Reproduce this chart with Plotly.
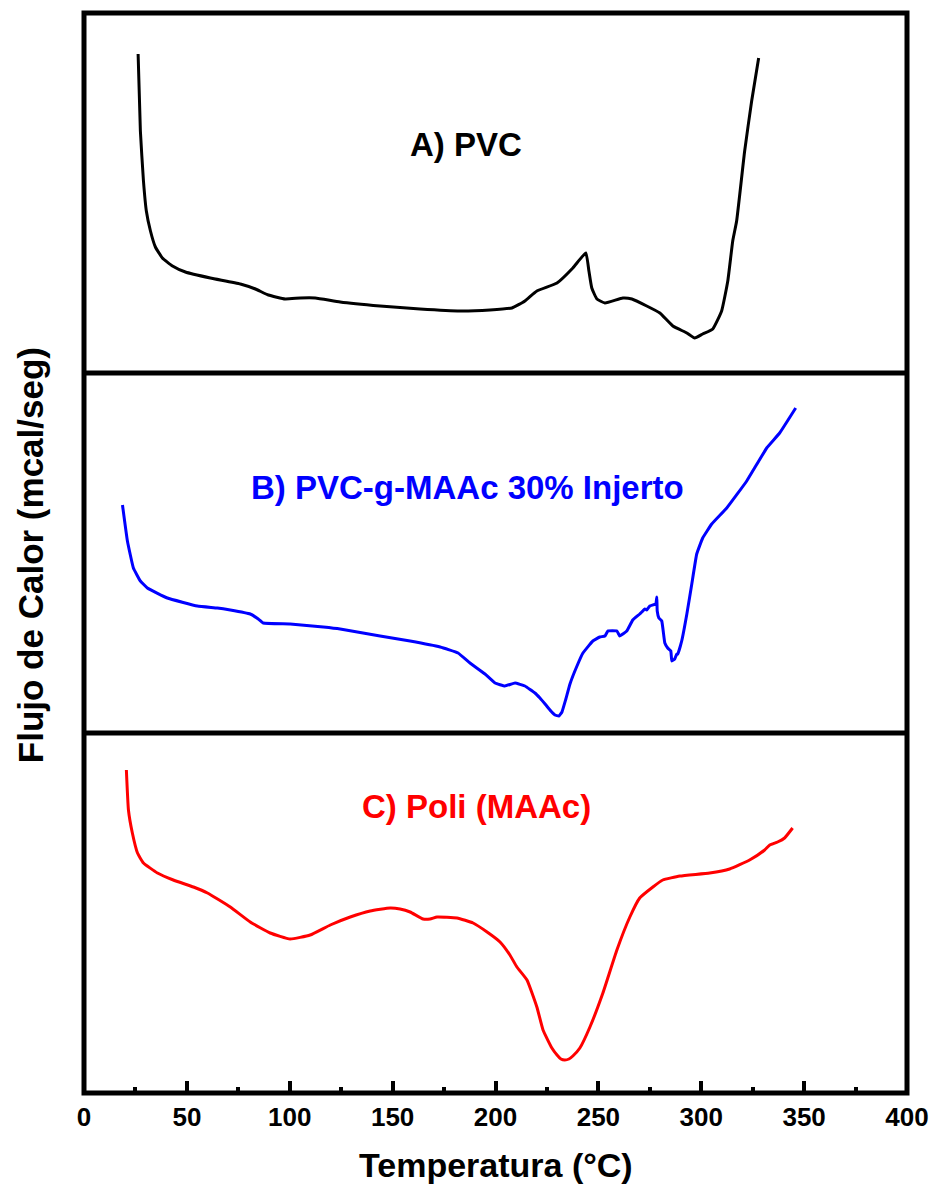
import plotly.graph_objects as go

# DSC heat-flow curves (arbitrary units, each panel 0-360)
pvc_temp = [26.3, 27.4, 28.9, 30.3, 32.3, 34.7, 38.1, 43.0, 49.3, 61.4, 76.0, 83.3, 89.6, 97.8,
            105.1, 112.4, 124.5, 143.9, 163.3, 182.8, 197.3, 208.0, 214.3, 220.1, 229.9, 237.6,
            243.9, 245.4, 246.8, 249.3, 253.2, 261.9, 266.3, 273.5, 279.9, 286.2, 293.0, 296.8,
            300.7, 305.6, 309.9, 312.9, 315.3, 317.2, 321.1, 324.5, 327.9]
pvc_flow = [319, 242, 192, 162, 142, 126, 115, 107, 101, 95, 89, 84, 78, 74,
            75, 75, 71, 67, 64, 62, 63, 65, 72, 82, 90, 105,
            120, 102, 85, 74, 70, 75, 74, 67, 60, 47, 40, 35,
            39, 44, 62, 92, 132, 152, 222, 272, 315]

graft_temp = [18.7, 21.1, 24.0, 27.4, 30.8, 40.5, 55.1, 64.8, 71.1, 80.8, 84.7, 87.1, 100.2, 116.3,
              124.5, 143.9, 158.5, 173.1, 181.8, 187.6, 194.9, 199.8, 204.6, 209.5, 214.3, 219.2,
              221.6, 224.5, 226.9, 228.9, 230.8, 232.3, 234.2, 236.2, 239.6, 242.5, 247.3, 250.7,
              253.2, 254.6, 259.0, 260.4, 263.8, 266.7, 270.1, 272.6, 273.5, 275.0, 277.9, 278.4,
              278.6, 279.4, 280.8, 282.3, 283.7, 285.2, 285.7, 287.1, 288.1, 288.6, 290.5, 293.0,
              295.4, 297.8, 300.7, 305.1, 312.4, 322.1, 331.8, 338.1, 345.9]
graft_flow = [228, 192, 165, 152, 145, 135, 127, 125, 123, 119, 114, 110, 109, 106,
              104, 97, 92, 86, 80, 70, 59, 50, 47, 50, 47, 40,
              35, 28, 22, 18, 17, 21, 34, 49, 67, 80, 92, 96,
              97, 102, 102, 97, 102, 113, 119, 124, 123, 127, 129, 136,
              122, 115, 112, 90, 85, 82, 72, 74, 79, 79, 92, 119,
              149, 179, 195, 209, 225, 252, 285, 300, 325]

pmaa_temp = [20.6, 21.6, 23.5, 26.0, 28.9, 35.7, 43.4, 53.2, 60.0, 71.1, 80.8, 90.5, 100.2, 109.9,
             119.7, 129.4, 139.1, 148.8, 153.6, 158.5, 164.8, 168.2, 171.6, 181.3, 189.1, 195.9,
             202.2, 207.0, 210.4, 215.3, 220.1, 223.1, 227.4, 229.9, 231.8, 233.7, 235.7, 237.6,
             241.0, 245.9, 252.2, 259.0, 265.3, 270.1, 276.5, 281.3, 289.6, 304.1, 313.8, 323.5,
             330.8, 333.3, 337.1, 340.5, 344.4]
pmaa_flow = [323, 283, 260, 240, 230, 220, 213, 206, 200, 186, 171, 160, 154, 158,
             168, 176, 182, 185, 184, 181, 174, 174, 176, 175, 170, 161,
             151, 138, 126, 113, 86, 63, 45, 38, 34, 33, 34, 37,
             45, 66, 100, 143, 176, 195, 206, 213, 217, 220, 224, 233,
             243, 248, 251, 255, 265]

labels = ["A) PVC", "B) PVC-g-MAAc 30% Injerto", "C) Poli (MAAc)"]
colors = ["black", "blue", "red"]

FONT = "Liberation Sans, Arial, sans-serif"

fig = go.Figure()
fig.add_trace(go.Scatter(x=pvc_temp, y=pvc_flow, yaxis="y3", mode="lines",
                         line=dict(color=colors[0], width=3, shape="spline", smoothing=0.4)))
fig.add_trace(go.Scatter(x=graft_temp, y=graft_flow, yaxis="y2", mode="lines",
                         line=dict(color=colors[1], width=3, shape="spline", smoothing=0.3)))
fig.add_trace(go.Scatter(x=pmaa_temp, y=pmaa_flow, yaxis="y", mode="lines",
                         line=dict(color=colors[2], width=3, shape="spline", smoothing=0.4)))

hidden_y = dict(range=[0, 360], showticklabels=False, ticks="", showgrid=False,
                zeroline=False, showline=False, fixedrange=True)

fig.update_layout(
    width=933, height=1197,
    margin=dict(l=83.5, r=25.5, t=12.5, b=104, autoexpand=False),
    plot_bgcolor="white", paper_bgcolor="white",
    showlegend=False,
    font=dict(family=FONT, color="black"),
    xaxis=dict(range=[0, 400], dtick=50, tick0=0, ticks="inside", ticklen=12, tickwidth=4,
               tickcolor="black", showgrid=False, zeroline=False, showline=False,
               ticklabelstandoff=6,
               tickfont=dict(family=FONT, size=26, weight="bold", color="black"),
               minor=dict(dtick=25, ticks="inside", ticklen=6, tickwidth=4, tickcolor="black",
                          showgrid=False),
               anchor="y", automargin=False),
    yaxis=dict(domain=[0, 1/3], **hidden_y),
    yaxis2=dict(domain=[1/3, 2/3], **hidden_y),
    yaxis3=dict(domain=[2/3, 1], **hidden_y),
)

# frame and panel separators
frame = dict(color="black", width=5)
fig.add_shape(type="rect", xref="paper", yref="paper", x0=0, x1=1, y0=0, y1=1, line=frame)
for yy in (1/3, 2/3):
    fig.add_shape(type="line", xref="paper", yref="paper", x0=0, x1=1, y0=yy, y1=yy, line=frame)

# panel labels
label_pos = [(0.464, 0.878), (0.466, 0.561), (0.477, 0.2656)]
for text, col, (px, py) in zip(labels, colors, label_pos):
    fig.add_annotation(text=text, xref="paper", yref="paper", x=px, y=py, showarrow=False,
                       xanchor="center", yanchor="middle",
                       font=dict(family=FONT, size=33, weight="bold", color=col))

# axis titles
fig.add_annotation(text="Temperatura (°C)", xref="paper", yref="paper", x=0.5, y=-0.0666,
                   showarrow=False, xanchor="center", yanchor="middle",
                   font=dict(family=FONT, size=34, weight="bold", color="black"))
fig.add_annotation(text="Flujo de Calor (mcal/seg)", xref="paper", yref="paper", x=-0.065, y=0.4975,
                   showarrow=False, xanchor="center", yanchor="middle", textangle=-90,
                   font=dict(family=FONT, size=35, weight="bold", color="black"))

fig.write_html("out.html")
